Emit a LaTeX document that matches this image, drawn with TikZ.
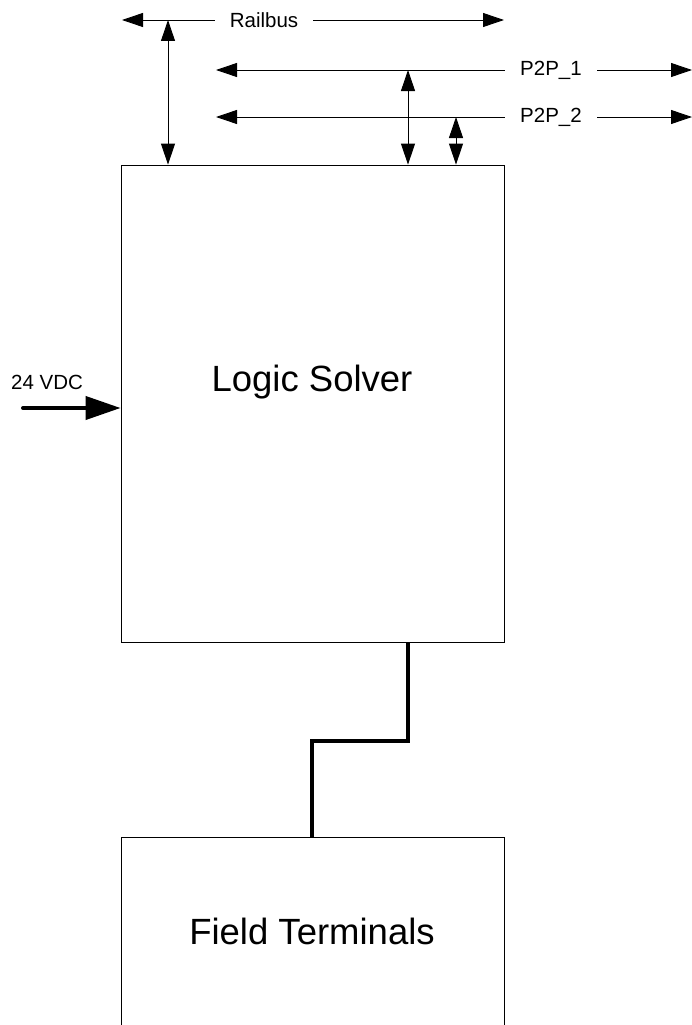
\documentclass[tikz,border=0pt]{standalone}
\usepackage{fontspec}
\setmainfont{Liberation Sans}
\usetikzlibrary{arrows.meta}

\begin{document}
\begin{tikzpicture}[x=1pt, y=-1pt, line width=0.9pt, >={Triangle[length=21pt, width=14pt]},
  bloc/.style={draw, line width=0.8pt, minimum width=383pt, inner sep=0pt},
  grand/.style={font=\fontsize{36.5}{40}\selectfont, inner sep=0pt},
  petit/.style={font=\fontsize{20.5}{24}\selectfont, fill=white, inner xsep=15pt, inner ysep=2pt},
  cable/.style={line width=4pt}]
            \clip (0,0) rectangle (692,1025);
            \node[bloc, minimum height=477pt] (ls) at (312.5,403.5) {};
            \node[bloc, minimum height=208pt] (ft) at (312.5,941) {};
            \node[grand] (lstext) at (312,382) {Logic Solver};
            \node[grand] (fttext) at (312,931) {Field Terminals};
            \coordinate (rbg) at (122,20); \coordinate (rbd) at (504,20);
            \coordinate (p1g) at (216,70); \coordinate (p1d) at (692,70);
            \coordinate (p2g) at (216,117); \coordinate (p2d) at (692,117);
            % les bus en haut, puis les liaisons vers le module
            \draw[<->] (rbg) -- (rbd);
            \draw[<->] (p1g) -- (p1d);
            \draw[<->] (p2g) -- (p2d);
            \node[petit] (railbus) at (264,20) {Railbus};
            \node[petit] (p2p1) at (551,70) {P2P\_1};
            \node[petit] (p2p2) at (551,117) {P2P\_2};
            \draw[<->] (rbg -| 168,0) -- (ls.north -| 168,0);
            \draw[<->] (p1g -| 408,0) -- (ls.north -| 408,0);
            \draw[<->] (p2g -| 456,0) -- (ls.north -| 456,0);
            \coordinate (alim) at (23,408); \coordinate (coude) at (312,741);
            \draw[cable, line cap=round, -{Triangle[length=35pt, width=23pt]}] (alim) -- (alim -| ls.west);
            \node[font=\fontsize{20.5}{24}\selectfont, inner sep=0pt] (vdc) at (47,382) {24 VDC};
            \draw[cable] (ls.south -| 408,0) |- (coude) -- (coude |- ft.north);
        \end{tikzpicture}
\end{document}
